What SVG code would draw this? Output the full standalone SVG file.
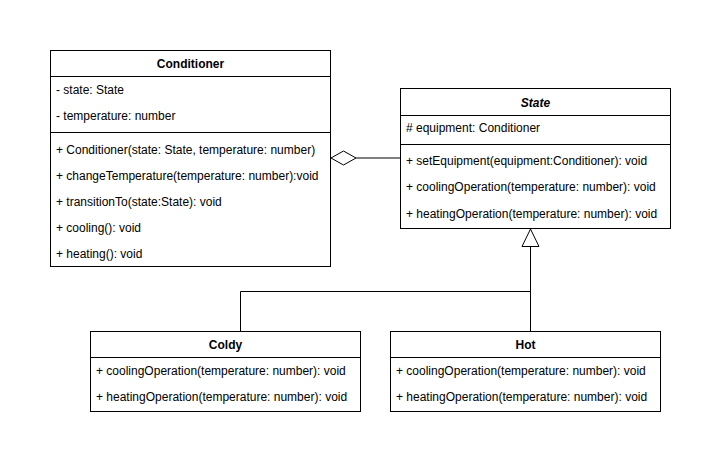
<svg xmlns="http://www.w3.org/2000/svg" width="721" height="465" viewBox="0 0 721 465">
<style>
.box{fill:#fff;stroke:#000;stroke-width:1}
.ln{fill:none;stroke:#000;stroke-width:1}
text{font-family:"Liberation Sans",Arial,sans-serif;font-size:12px;fill:#000}
.t{font-weight:bold;text-anchor:middle}
.i{font-style:italic}
</style>
<rect width="721" height="465" fill="#fff"/>
<g id="connectors">
<polyline class="ln" points="356,158 400.5,158"/>
<polygon class="box" points="331,158 343.5,151 356,158 343.5,165"/>
<polyline class="ln" points="240.5,331.5 240.5,291.5 530.5,291.5"/>
<polyline class="ln" points="530.5,331.5 530.5,246.5"/>
<polygon class="box" points="530.5,229 522,246.5 539,246.5"/>
</g>
<g id="Conditioner">
<rect class="box" x="50.5" y="50.5" width="280" height="216"/>
<line class="ln" x1="50.5" y1="76.5" x2="330.5" y2="76.5"/>
<line class="ln" x1="50.5" y1="132.5" x2="330.5" y2="132.5"/>
<text class="t" x="190.5" y="68">Conditioner</text>
<text x="56" y="94">- state: State</text>
<text x="56" y="120">- temperature: number</text>
<text x="56" y="154">+ Conditioner(state: State, temperature: number)</text>
<text x="56" y="180">+ changeTemperature(temperature: number):void</text>
<text x="56" y="206">+ transitionTo(state:State): void</text>
<text x="56" y="232">+ cooling(): void</text>
<text x="56" y="258">+ heating(): void</text>
</g>
<g id="State">
<rect class="box" x="400.5" y="88.5" width="270" height="140"/>
<line class="ln" x1="400.5" y1="115.5" x2="670.5" y2="115.5"/>
<line class="ln" x1="400.5" y1="144.5" x2="670.5" y2="144.5"/>
<text class="t i" x="535.5" y="107">State</text>
<text x="406" y="132"># equipment: Conditioner</text>
<text x="406" y="165">+ setEquipment(equipment:Conditioner): void</text>
<text x="406" y="191">+ coolingOperation(temperature: number): void</text>
<text x="406" y="218">+ heatingOperation(temperature: number): void</text>
</g>
<g id="Coldy">
<rect class="box" x="90.5" y="331.5" width="270" height="80"/>
<line class="ln" x1="90.5" y1="357.5" x2="360.5" y2="357.5"/>
<text class="t" x="225.5" y="349">Coldy</text>
<text x="96" y="375">+ coolingOperation(temperature: number): void</text>
<text x="96" y="401">+ heatingOperation(temperature: number): void</text>
</g>
<g id="Hot">
<rect class="box" x="390.5" y="331.5" width="270" height="80"/>
<line class="ln" x1="390.5" y1="357.5" x2="660.5" y2="357.5"/>
<text class="t" x="525.5" y="349">Hot</text>
<text x="396" y="375">+ coolingOperation(temperature: number): void</text>
<text x="396" y="401">+ heatingOperation(temperature: number): void</text>
</g>
</svg>
